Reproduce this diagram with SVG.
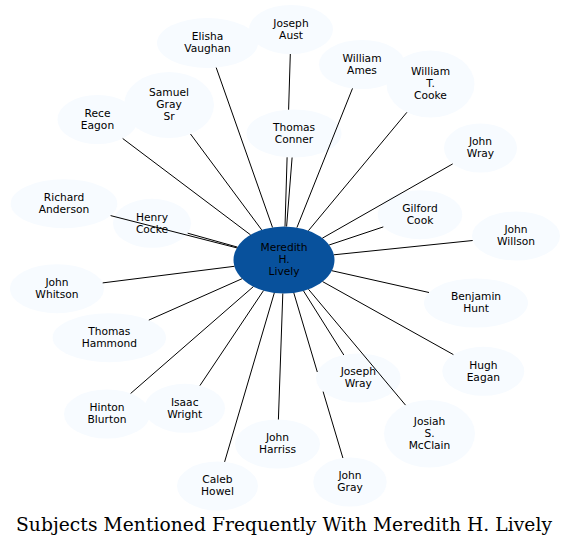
<svg xmlns="http://www.w3.org/2000/svg" width="569" height="547" viewBox="0 0 569 547">
<style>
.n ellipse{fill:#f7fbff;stroke:none}
.n text{font-family:"DejaVu Sans",sans-serif;font-size:10.67px;fill:#000;text-anchor:middle}
#center ellipse{fill:#08519c}
.e{stroke:#000;stroke-width:1;fill:none}
.title{font-family:"DejaVu Serif",serif;font-size:18.67px;fill:#000;text-anchor:middle}
</style>
<rect width="569" height="547" fill="#fff"/>
<g id="nodes">
<g id="center" class="n"><ellipse cx="284" cy="260" rx="50.5" ry="33.5"/><text x="284" y="251.3">Meredith</text><text x="284" y="263.3">H.</text><text x="284" y="275.3">Lively</text></g>
<g id="elisha_vaughan" class="n"><ellipse cx="207.5" cy="43" rx="50.5" ry="25"/><text x="207.5" y="40.3">Elisha</text><text x="207.5" y="52.3">Vaughan</text></g>
<g id="joseph_aust" class="n"><ellipse cx="291" cy="29.5" rx="42" ry="24.5"/><text x="291" y="26.8">Joseph</text><text x="291" y="38.8">Aust</text></g>
<g id="william_ames" class="n"><ellipse cx="362" cy="64.5" rx="43" ry="24.5"/><text x="362" y="61.8">William</text><text x="362" y="73.8">Ames</text></g>
<g id="william_t_cooke" class="n"><ellipse cx="430.5" cy="84" rx="44" ry="33.5"/><text x="430.5" y="75.3">William</text><text x="430.5" y="87.3">T.</text><text x="430.5" y="99.3">Cooke</text></g>
<g id="rece_eagon" class="n"><ellipse cx="97.5" cy="119.5" rx="40" ry="24.5"/><text x="97.5" y="116.8">Rece</text><text x="97.5" y="128.8">Eagon</text></g>
<g id="samuel_gray_sr" class="n"><ellipse cx="169" cy="105" rx="45" ry="33"/><text x="169" y="96.3">Samuel</text><text x="169" y="108.3">Gray</text><text x="169" y="120.3">Sr</text></g>
<g id="thomas_conner" class="n"><ellipse cx="294" cy="133.5" rx="47.5" ry="24"/><text x="294" y="130.8">Thomas</text><text x="294" y="142.8">Conner</text></g>
<g id="john_wray" class="n"><ellipse cx="480.5" cy="148" rx="36.5" ry="24.5"/><text x="480.5" y="145.3">John</text><text x="480.5" y="157.3">Wray</text></g>
<g id="richard_anderson" class="n"><ellipse cx="64" cy="203.7" rx="53.3" ry="24.5"/><text x="64" y="201">Richard</text><text x="64" y="213">Anderson</text></g>
<g id="henry_cocke" class="n"><ellipse cx="152" cy="223.3" rx="39" ry="24.5"/><text x="152" y="220.6">Henry</text><text x="152" y="232.6">Cocke</text></g>
<g id="gilford_cook" class="n"><ellipse cx="420" cy="214.7" rx="42.3" ry="24.5"/><text x="420" y="212">Gilford</text><text x="420" y="224">Cook</text></g>
<g id="john_willson" class="n"><ellipse cx="516" cy="236" rx="44" ry="24.5"/><text x="516" y="233.3">John</text><text x="516" y="245.3">Willson</text></g>
<g id="john_whitson" class="n"><ellipse cx="57" cy="288.7" rx="47" ry="24.5"/><text x="57" y="286">John</text><text x="57" y="298">Whitson</text></g>
<g id="benjamin_hunt" class="n"><ellipse cx="476" cy="303" rx="52" ry="24.5"/><text x="476" y="300.3">Benjamin</text><text x="476" y="312.3">Hunt</text></g>
<g id="thomas_hammond" class="n"><ellipse cx="109.3" cy="337.7" rx="56.7" ry="24.5"/><text x="109.3" y="335">Thomas</text><text x="109.3" y="347">Hammond</text></g>
<g id="hugh_eagan" class="n"><ellipse cx="483.3" cy="371.3" rx="41" ry="24.5"/><text x="483.3" y="368.6">Hugh</text><text x="483.3" y="380.6">Eagan</text></g>
<g id="joseph_wray" class="n"><ellipse cx="358.3" cy="378" rx="42.3" ry="24.5"/><text x="358.3" y="375.3">Joseph</text><text x="358.3" y="387.3">Wray</text></g>
<g id="hinton_blurton" class="n"><ellipse cx="107" cy="414" rx="43" ry="24.5"/><text x="107" y="411.3">Hinton</text><text x="107" y="423.3">Blurton</text></g>
<g id="isaac_wright" class="n"><ellipse cx="184.7" cy="408.3" rx="40.3" ry="24.5"/><text x="184.7" y="405.6">Isaac</text><text x="184.7" y="417.6">Wright</text></g>
<g id="josiah_s_mcclain" class="n"><ellipse cx="429.5" cy="433.8" rx="45.5" ry="33.8"/><text x="429.5" y="425.1">Josiah</text><text x="429.5" y="437.1">S.</text><text x="429.5" y="449.1">McClain</text></g>
<g id="john_harriss" class="n"><ellipse cx="277.5" cy="444" rx="42.5" ry="24.5"/><text x="277.5" y="441.3">John</text><text x="277.5" y="453.3">Harriss</text></g>
<g id="john_gray" class="n"><ellipse cx="350" cy="482" rx="36.7" ry="24.5"/><text x="350" y="479.3">John</text><text x="350" y="491.3">Gray</text></g>
<g id="caleb_howel" class="n"><ellipse cx="217.5" cy="486" rx="40.5" ry="24.5"/><text x="217.5" y="483.3">Caleb</text><text x="217.5" y="495.3">Howel</text></g>
</g>
<g id="connectors">
<path class="e" d="M272.5,227.4L216.2,67.6"/>
<path class="e" d="M285,226.5L287.1,157.3M288.6,109.7L290.3,54"/>
<path class="e" d="M296.9,227.6L352.5,88.4"/>
<path class="e" d="M308.4,230.7L406.9,112.3"/>
<path class="e" d="M261.7,229.9L190.5,134"/>
<path class="e" d="M250.6,234.9L122.7,138.5"/>
<path class="e" d="M286.6,226.5L292.1,157.5"/>
<path class="e" d="M322.3,238.2L452.7,163.9"/>
<path class="e" d="M236.9,247.9L110.6,215.6"/>
<path class="e" d="M237.4,247.1L187.7,233.2"/>
<path class="e" d="M329.1,245L383.3,226.9"/>
<path class="e" d="M333.9,254.8L472.7,240.5"/>
<path class="e" d="M234.4,266.3L102.7,282.9"/>
<path class="e" d="M331.8,270.7L429,292.5"/>
<path class="e" d="M242.1,278.7L148.8,320.1"/>
<path class="e" d="M322.6,281.6L453.4,354.6"/>
<path class="e" d="M303.5,290.9L343.8,355"/>
<path class="e" d="M263.5,290.6L199.9,385.6"/>
<path class="e" d="M253.4,286.6L130.6,393.5"/>
<path class="e" d="M308.5,289.3L405.5,405.1"/>
<path class="e" d="M282.8,293.5L278.4,419.5"/>
<path class="e" d="M293.8,292.9L317.3,372M323.1,391.6L342.9,458"/>
<path class="e" d="M274.3,292.9L224.6,461.9"/>
</g>
<text class="title" x="284" y="531" textLength="536" lengthAdjust="spacing">Subjects Mentioned Frequently With Meredith H. Lively</text>
</svg>
